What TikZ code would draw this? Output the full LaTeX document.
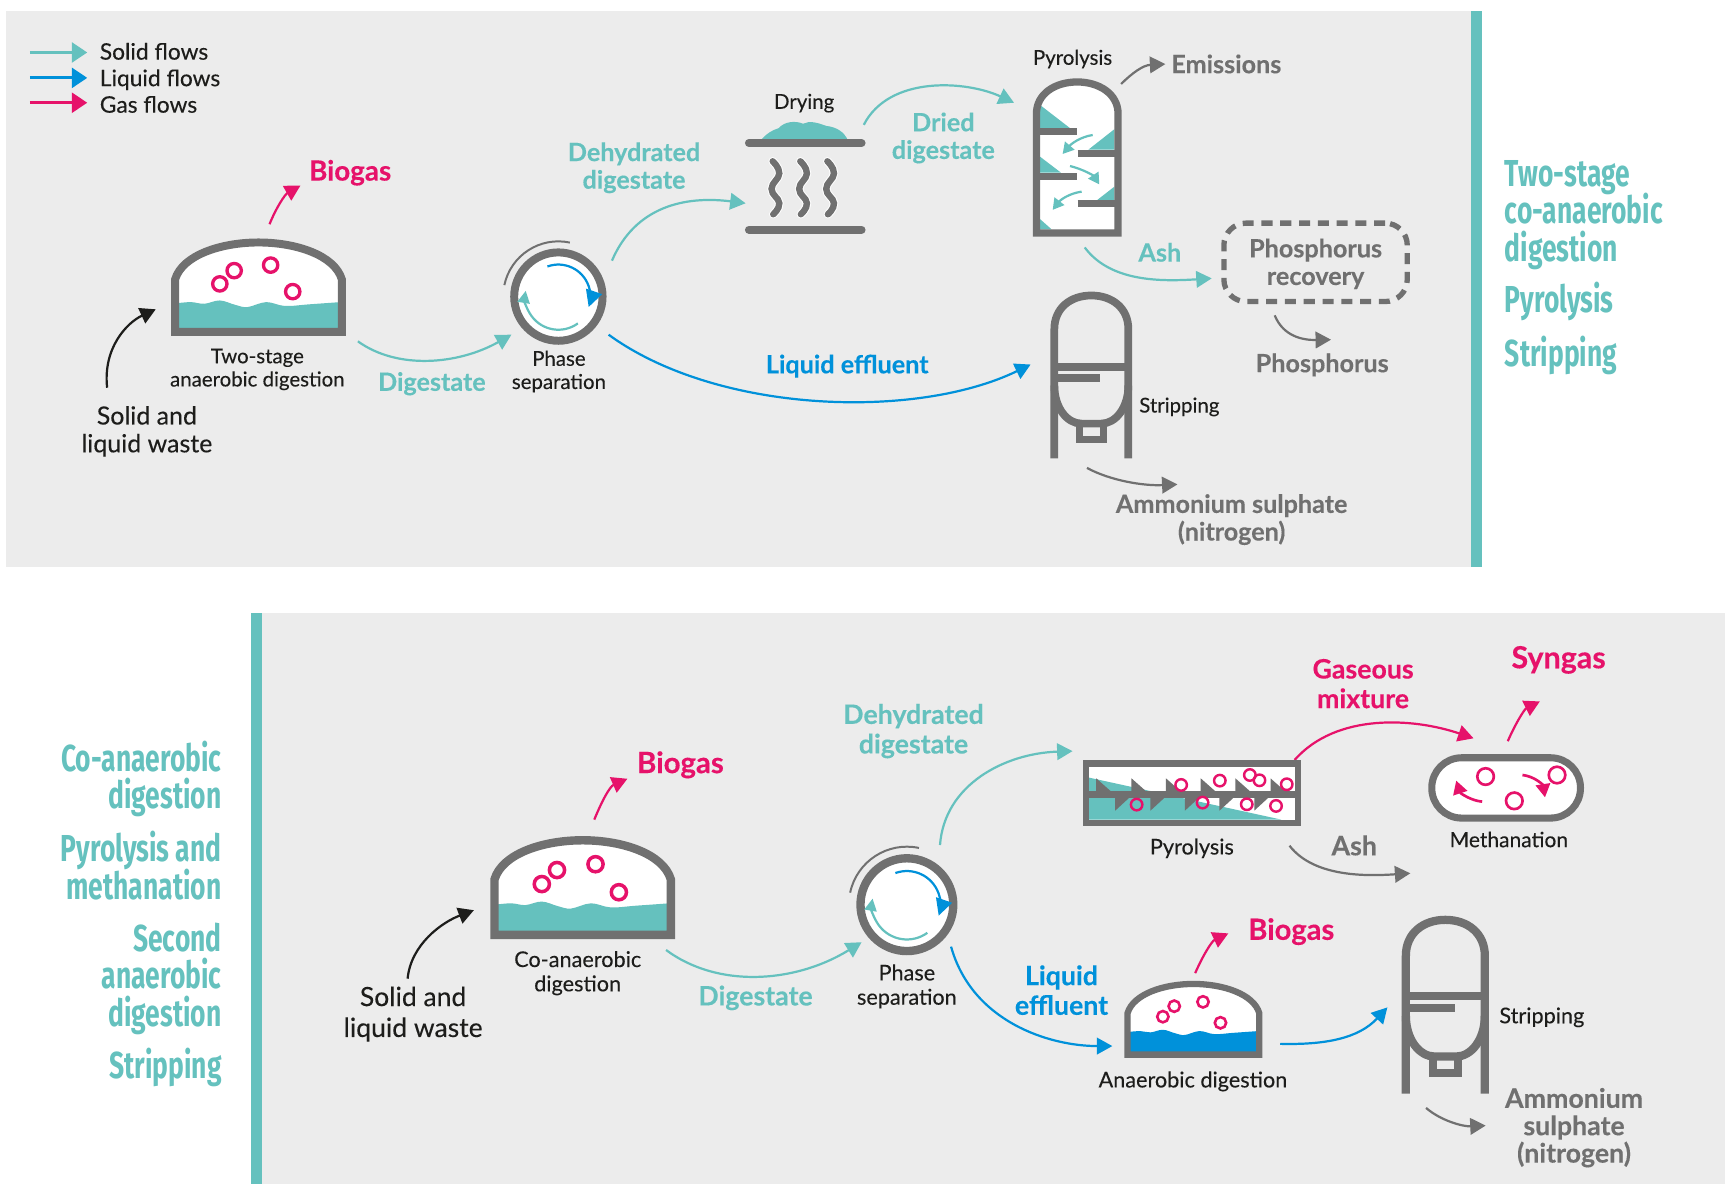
\documentclass[tikz,border=0pt]{standalone}
\usepackage{fontspec}
\setmainfont{Lato}[FakeBold=0.2,BoldFeatures={FakeBold=0.25}]
\newfontfamily\condfont[FakeStretch=0.704]{Fira Sans}
\usetikzlibrary{arrows.meta}
\definecolor{panelgray}{HTML}{ECECEC}
\definecolor{tealc}{HTML}{65C1BE}
\definecolor{bluec}{HTML}{0091DA}
\definecolor{pinkc}{HTML}{E6126A}
\definecolor{grayc}{HTML}{707070}
\definecolor{inkc}{HTML}{1D1D1B}
\tikzset{
 flowbase/.style={line width=1pt,-{Triangle[length=7pt,width=7.5pt]}},
 tealflow/.style={flowbase,draw=tealc},
 blueflow/.style={flowbase,draw=bluec},
 pinkflow/.style={flowbase,draw=pinkc},
 grayflow/.style={flowbase,draw=grayc},
 inkflow/.style={flowbase,draw=inkc},
 legendflow/.style={line width=1.4pt,-{Triangle[length=7pt,width=9pt]}},
 smallteal/.style={line width=1pt,draw=tealc,-{Triangle[length=5pt,width=5.5pt]}},
 smallpink/.style={line width=1.2pt,draw=pinkc,-{Triangle[length=6pt,width=6.5pt]}},
 wall/.style={draw=grayc,line join=miter},
 bubble/.style={draw=pinkc,line width=1.5pt},
 smalltxt/.style={inner sep=0,yshift=-0.7pt,align=center,text=inkc,font=\fontsize{9.25}{10.5}\selectfont},
 smallertxt/.style={inner sep=0,yshift=-0.5pt,align=center,text=inkc,font=\fontsize{9.8}{11}\selectfont},
 midtxt/.style={inner sep=0,align=center,text=inkc,font=\fontsize{10.3}{12.6}\selectfont},
 bigtxt/.style={inner sep=0,yshift=-0.5pt,align=center,text=inkc,font=\fontsize{12}{14}\selectfont},
 boldtxt/.style={inner sep=0,yshift=-0.2pt,align=center,font=\bfseries\fontsize{11.4}{12.5}\selectfont},
 boldbig/.style={inner sep=0,yshift=-0.2pt,align=center,font=\bfseries\fontsize{12.1}{13.4}\selectfont},
 sidetxt/.style={inner sep=0,text=tealc,font=\condfont\bfseries\fontsize{17}{17}\selectfont},
}
\newcommand\flow[6]{\coordinate (#2s) at (#3); \coordinate (#2e) at (#6); \draw[#1] (#2s) .. controls (#4) and (#5) .. (#2e);}
% digester: x, y, scale, liquid colour
\newcommand\digesticon[4]{%
\begin{scope}[shift={(#1,#2)},scale=#3]
 \fill[white] (3.5,84.5) -- (3.5,37) .. controls (10,15) and (45,3.5) .. (79,3.5) .. controls (113,3.5) and (148,15) .. (154.5,37) -- (154.5,84.5) -- cycle;
 \fill[#4] plot[smooth,tension=.6] coordinates {(5,58.5) (18,57.5) (30,59) (44,56) (58,60) (69,62) (86,57.5) (103,61) (125,59.5) (153,57.5)} -- (153,84) -- (5,84) -- cycle;
 \draw[wall,line width=#3*3.6pt] (3.5,84.5) -- (3.5,37) .. controls (10,15) and (45,3.5) .. (79,3.5) .. controls (113,3.5) and (148,15) .. (154.5,37) -- (154.5,84.5) -- cycle;
 \draw[bubble,line width=#3*1.5pt] (44,41) circle[radius=6.5] (57,29) circle[radius=6.5] (90,24) circle[radius=6.5] (110,48) circle[radius=6.5];
\end{scope}}
% phase separator: centre x, y, scale
\newcommand\phaseicon[3]{%
\begin{scope}[shift={(#1,#2)},scale=#3]
 \fill[white] (0,0) circle[radius=40];
 \draw[grayc,line width=#3*3.6pt] (0,0) circle[radius=40];
 \draw[grayc,line width=0.9pt] (-168:50) arc[start angle=-168,end angle=-78,radius=50];
 \draw[bluec,line width=1pt,-{Triangle[length=7.5pt,width=7.5pt]}] (-110:29) arc[start angle=-110,end angle=19,radius=29];
 \draw[tealc,line width=1pt,-{Triangle[length=5.5pt,width=5.5pt]}] (54:30) arc[start angle=54,end angle=190,radius=30];
\end{scope}}
% stripping vessel: x, y, scale
\newcommand\strippericon[3]{%
\begin{scope}[shift={(#1,#2)},scale=#3]
 \draw[wall,line width=#3*3.5pt] (3.5,151) -- (3.5,34) .. controls (3.5,15) and (18,3.5) .. (37,3.5) .. controls (56,3.5) and (70.5,15) .. (70.5,34) -- (70.5,151);
 \draw[wall,line width=#3*3.5pt] (3.5,68) -- (70.5,68) (3.5,78) -- (45,78);
 \draw[wall,line width=#3*3.5pt] (3.5,85) .. controls (3.5,105) and (15,119.5) .. (28,119.5) -- (46,119.5) .. controls (59,119.5) and (70.5,105) .. (70.5,85);
 \draw[wall,line width=#3*3.2pt] (26.3,119.5) rectangle (47.7,133.5);
\end{scope}}
\begin{document}
\begin{tikzpicture}[x=0.5pt,y=-0.5pt]
\useasboundingbox (0,0) rectangle (1568,1072);
% panels
\fill[panelgray] (5,10) rectangle (1332,513);
\fill[tealc] (1332,10) rectangle (1342,513);
\fill[panelgray] (236,555) rectangle (1562,1072);
\fill[tealc] (227,555) rectangle (237,1072);
% legend
\flow{legendflow,draw=tealc,tealc}{lega}{27,47.5}{40,47.5}{60,47.5}{79,47.5}
\flow{legendflow,draw=bluec,bluec}{legb}{27,70.5}{40,70.5}{60,70.5}{79,70.5}
\flow{legendflow,draw=pinkc,pinkc}{legc}{27,93}{40,93}{60,93}{79,93}
\node[midtxt,anchor=base west] (lg1) at (90,54) {Solid flows};
\node[midtxt,anchor=base west] (lg2) at (90,78) {Liquid flows};
\node[midtxt,anchor=base west] (lg3) at (90,102) {Gas flows};
% ---------- top ----------
\digesticon{155}{216}{1}{tealc}
\phaseicon{505.5}{268.5}{1}
\node[bigtxt,font=\fontsize{11.3}{12.6}\selectfont] (w1) at (133,389.5) {Solid and\\liquid waste};
\node[smalltxt] (d1) at (233,333) {Two-stage\\anaerobic digestion};
\node[smalltxt] (p1) at (506,335) {Phase\\separation};
\node[boldtxt,text=pinkc,font=\bfseries\fontsize{12.6}{14}\selectfont] (b1) at (317,156) {Biogas};
\node[boldtxt,text=tealc] (dg1) at (391,347) {Digestate};
\node[boldtxt,text=tealc] (dh1) at (574,151.5) {Dehydrated\\digestate};
\node[smalltxt] (dry) at (728,92) {Drying};
\node[boldtxt,text=tealc] (dr) at (854,124.5) {Dried\\digestate};
\node[smalltxt] (py1) at (971,52) {Pyrolysis};
\node[boldtxt,text=grayc,anchor=west] (em) at (1060,57.5) {Emissions};
\node[boldtxt,text=tealc] (ash1) at (1050,228) {Ash};
\node[boldtxt,text=grayc] (ph) at (1197,330) {Phosphorus};
\node[boldtxt,text=bluec] (le1) at (767,331) {Liquid effluent};
\node[smalltxt,anchor=west] (st1) at (1031,367) {Stripping};
\node[boldtxt,text=grayc] (am1) at (1115,470) {Ammonium sulphate\\(nitrogen)};
\node[draw=grayc,line width=2.4pt,rounded corners=10pt,dash pattern=on 5pt off 3.5pt,minimum width=83pt,minimum height=35.5pt] (phb) at (1191,237.5) {};
\node[boldtxt,text=grayc] (phr) at (1191,238.5) {Phosphorus\\recovery};
\flow{inkflow,inkc}{f1}{97,351}{93,315}{115,292}{141,280}
\flow{pinkflow,pinkc}{f2}{244,203}{250,188}{258,176}{272,168}
\flow{tealflow,tealc}{f3}{324,309}{360,335}{415,330}{463,303}
\flow{tealflow,tealc}{f4}{554,236}{575,187}{620,177}{675,184}
\flow{blueflow,bluec}{f5}{551,303}{650,375}{830,380}{933,330}
\flow{tealflow,tealc}{f6}{782,113}{805,68}{875,73}{918,93}
\flow{grayflow,grayc}{f7}{1015,76}{1025,66}{1035,59}{1055,58}
\flow{tealflow,tealc}{f8}{982,224}{1005,255}{1050,255}{1097,252}
\flow{grayflow,grayc}{f9}{1154,285.5}{1162,305}{1180,308}{1205,307.5}
\flow{grayflow,grayc}{f10}{984,423.6}{1005,435}{1035,440}{1066,438.5}
% drying
\fill[tealc] (688.7,127) .. controls (695,120) and (699,118) .. (705,116) .. controls (710,110) and (720,109) .. (727,112) .. controls (733,109) and (740,111) .. (748,114) .. controls (757,115) and (764,119) .. (767.6,127) -- cycle;
\draw[grayc,line width=3.6pt,line cap=round] (678,129.5) -- (780,129.5) (678,208) -- (780,208);
\foreach \wx in {702,727,751.5}{
 \draw[white,line width=3.8pt,line cap=round] plot[smooth,tension=.8] coordinates {(\wx-2.5,146) (\wx+3.5,157) (\wx-3.5,171) (\wx+3.5,184) (\wx-2,194)};
 \draw[grayc,line width=2.9pt,line cap=round] plot[smooth,tension=.8] coordinates {(\wx-2.5,146) (\wx+3.5,157) (\wx-3.5,171) (\wx+3.5,184) (\wx-2,194)};
}
% pyrolysis vessel
\fill[white] (938.3,211) -- (938.3,103) .. controls (938.3,85) and (955,74.2) .. (975.2,74.2) .. controls (995,74.2) and (1012.2,85) .. (1012.2,103) -- (1012.2,211) -- cycle;
\fill[tealc] (941.5,95) -- (941.5,116) -- (968.7,116) -- cycle
 (1008.8,117) -- (1008.8,135.5) -- (985.3,135.5) -- cycle
 (941.5,141.8) -- (941.5,156.3) -- (960.5,156.3) -- cycle
 (1008.8,169) -- (1008.8,181) -- (993.4,181) -- cycle
 (941.5,198.3) -- (941.5,207.6) -- (952,207.6) -- cycle;
\draw[wall,line width=3.3pt] (938.3,211) -- (938.3,103) .. controls (938.3,85) and (955,74.2) .. (975.2,74.2) .. controls (995,74.2) and (1012.2,85) .. (1012.2,103) -- (1012.2,211) -- cycle;
\draw[wall,line width=3.2pt] (940,119) -- (974.7,119) (975.6,138.6) -- (1010,138.6) (940,159.5) -- (974.7,159.5) (975.6,184) -- (1010,184);
\flow{smallteal}{s1}{989.2,122.2}{978,124}{970,130}{962,139.4}
\flow{smallteal}{s2}{968.7,150.3}{980,153}{990,159}{995.2,166.9}
\flow{smallteal}{s3}{979.2,173.5}{968,175}{960,181}{953,190}
\strippericon{951}{264}{1}
% side text top
\node[sidetxt,anchor=base west] (t1) at (1362,168.5) {Two-stage};
\node[sidetxt,anchor=base west] (t2) at (1362,202.5) {co-anaerobic};
\node[sidetxt,anchor=base west] (t3) at (1362,236.5) {digestion};
\node[sidetxt,anchor=base west] (t4) at (1362,283) {Pyrolysis};
\node[sidetxt,anchor=base west] (t5) at (1362,331.5) {Stripping};
% ---------- bottom ----------
\digesticon{444}{757}{1.057}{tealc}
\phaseicon{821}{819}{1.05}
\digesticon{1018}{888}{0.79}{bluec}
\strippericon{1269}{829}{1.067}
\node[bigtxt] (w2) at (374,917) {Solid and\\liquid waste};
\node[smallertxt] (d2) at (523,880) {Co-anaerobic\\digestion};
\node[smallertxt] (p2) at (821,892) {Phase\\separation};
\node[smallertxt] (d3) at (1080,978) {Anaerobic digestion};
\node[smallertxt] (py2) at (1079,767) {Pyrolysis};
\node[smallertxt,font=\fontsize{9.5}{11}\selectfont] (me) at (1366,759) {Methanation};
\node[smallertxt,anchor=west] (st2) at (1357,920) {Stripping};
\node[boldbig,text=pinkc,font=\bfseries\fontsize{13.3}{14}\selectfont] (b2) at (616,692) {Biogas};
\node[boldbig,text=tealc] (dg2) at (684,903) {Digestate};
\node[boldbig,text=tealc] (dh2) at (827,661.5) {Dehydrated\\digestate};
\node[boldbig,text=pinkc] (gm) at (1234,618.5) {Gaseous\\mixture};
\node[boldbig,text=pinkc,font=\bfseries\fontsize{13.8}{14}\selectfont] (sy) at (1411,597) {Syngas};
\node[boldbig,text=grayc] (ash2) at (1226,765) {Ash};
\node[boldbig,text=bluec] (le2) at (961,896) {Liquid\\effluent};
\node[boldbig,text=pinkc,font=\bfseries\fontsize{13.2}{14}\selectfont] (b3) at (1169,843) {Biogas};
\node[boldbig,text=grayc,font=\bfseries\fontsize{12.1}{12.4}\selectfont] (am2) at (1425,1020.5) {Ammonium\\sulphate\\(nitrogen)};
\flow{inkflow,inkc}{g1}{369,886}{372,855}{400,835}{429,824}
\flow{pinkflow,pinkc}{g2}{538,742}{545,725}{552,712}{568,705}
\flow{tealflow,tealc}{g3}{603,860}{650,895}{720,890}{780,853}
\flow{tealflow,tealc}{g4}{851,765}{855,710}{910,682}{971,680}
\flow{blueflow,bluec}{g5}{861,857}{880,925}{950,947}{1007,947}
\flow{pinkflow,pinkc}{g6}{1082,881}{1089,865}{1097,852}{1112,845}
\flow{blueflow,bluec}{g7}{1159,945}{1200,946}{1230,940}{1256,912}
\flow{grayflow,grayc}{g8}{1291,1003}{1305,1015}{1325,1020}{1345,1019}
\flow{pinkflow,pinkc}{g9}{1172,688}{1210,645}{1280,650}{1334,668.4}
\flow{grayflow,grayc}{g10}{1167.4,765.6}{1190,795}{1240,793}{1276.8,790.6}
\flow{pinkflow,pinkc}{g11}{1365,671}{1372,655}{1380,642}{1394,635}
% horizontal pyrolysis
\fill[white] (983,691) rectangle (1175,745);
\fill[tealc] (986,704) -- (1160,742) -- (986,742) -- cycle;
\foreach \tx in {992.4,1024.3,1055.5,1087,1118.4,1150.2}{\fill[grayc] (\tx,704.6) -- (\tx,717) -- (\tx+14,717) -- cycle;}
\foreach \tx in {1009.6,1041.5,1072.7,1104,1135.5}{\fill[grayc] (\tx,721) -- (\tx,733.9) -- (\tx+14,721) -- cycle;}
\draw[wall,line width=3pt] (983,691) rectangle (1175,745);
\draw[wall,line width=3pt] (983,719) -- (1175,719);
\foreach \bx/\by in {1029/728.4,1069.3/710.6,1104.3/706.7,1088.7/726.6,1131.5/701.6,1140.2/706.4,1128.7/728.1,1164.9/710,1155.2/729.6}{\draw[bubble,line width=1.1pt] (\bx,\by) circle[radius=5.2];}
% methanation
\draw[wall,fill=white,line width=3.2pt,rounded corners=13.5pt] (1296.2,686) rectangle (1430.8,740.6);
\foreach \bx/\by in {1344.9/703,1409.6/701.6,1370.9/725}{\draw[bubble,line width=1.2pt] (\bx,\by) circle[radius=7.5];}
\flow{smallpink}{m1}{1341.8,725.7}{1332,725}{1322,718}{1318.3,706.7}
\flow{smallpink}{m2}{1378.3,701.6}{1390,703}{1397,711}{1398.7,721.8}
% side text bottom
\node[sidetxt,anchor=base east] (u1) at (201,698) {Co-anaerobic};
\node[sidetxt,anchor=base east] (u2) at (201,732) {digestion};
\node[sidetxt,anchor=base east] (u3) at (201,780) {Pyrolysis and};
\node[sidetxt,anchor=base east] (u4) at (201,814) {methanation};
\node[sidetxt,anchor=base east] (u5) at (201,861) {Second};
\node[sidetxt,anchor=base east] (u6) at (201,895) {anaerobic};
\node[sidetxt,anchor=base east] (u7) at (201,929) {digestion};
\node[sidetxt,anchor=base east] (u8) at (201,976) {Stripping};
\end{tikzpicture}
\end{document}
